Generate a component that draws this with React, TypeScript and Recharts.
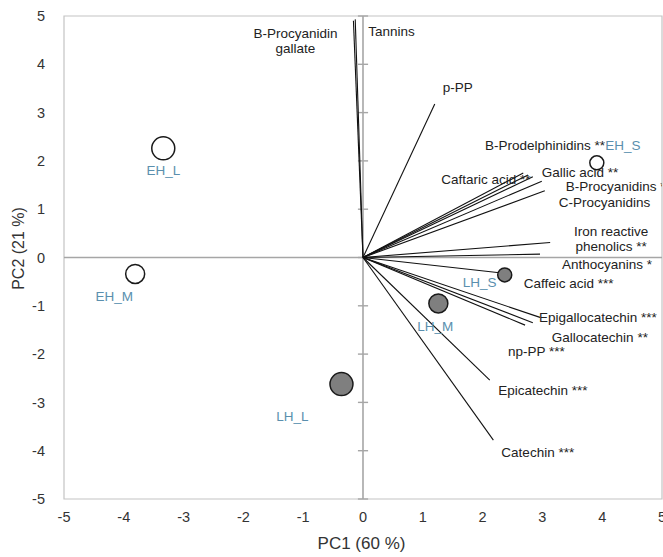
import React from 'react';
import {
  ScatterChart,
  Scatter,
  XAxis,
  YAxis,
  ReferenceLine,
  ReferenceArea,
  Label,
} from 'recharts';

// Axis ticks shared by PC1 and PC2
const axisTicks = [-5, -4, -3, -2, -1, 0, 1, 2, 3, 4, 5];

// Variable loadings (arrow tips)
const variableNames = [
  'B-Procyanidin gallate',
  'Tannins',
  'p-PP',
  'Caftaric acid',
  'B-Prodelphinidins',
  'Gallic acid',
  'B-Procyanidins',
  'C-Procyanidins',
  'Iron reactive phenolics',
  'Anthocyanins',
  'Caffeic acid',
  'Epigallocatechin',
  'Gallocatechin',
  'np-PP',
  'Epicatechin',
  'Catechin',
];
const variablePC1 = [-0.16, -0.13, 1.2, 2.68, 2.76, 2.84, 2.99, 3.04, 3.13, 2.96, 2.32, 2.96, 2.84, 2.71, 2.12, 2.18];
const variablePC2 = [4.9, 4.93, 3.18, 1.75, 1.71, 1.67, 1.58, 1.38, 0.31, 0.07, -0.32, -1.24, -1.35, -1.4, -2.54, -3.78];
const variableText = [
  ['B-Procyanidin', 'gallate'],
  ['Tannins'],
  ['p-PP'],
  ['Caftaric acid **'],
  ['B-Prodelphinidins **'],
  ['Gallic acid **'],
  ['B-Procyanidins *'],
  ['C-Procyanidins'],
  ['Iron reactive', 'phenolics **'],
  ['Anthocyanins *'],
  ['Caffeic acid ***'],
  ['Epigallocatechin ***'],
  ['Gallocatechin **'],
  ['np-PP ***'],
  ['Epicatechin ***'],
  ['Catechin ***'],
];

// Sample scores
const sampleNames = ['EH_L', 'EH_M', 'EH_S', 'LH_L', 'LH_M', 'LH_S'];
const samplePC1 = [-3.34, -3.81, 3.91, -0.36, 1.26, 2.37];
const samplePC2 = [2.26, -0.34, 1.96, -2.62, -0.95, -0.36];

// Label placement relative to each tip / point (px): [dx, dy, anchor]
const variableLabelOffsets: [number, number, string][] = [
  [-58, 12, 'middle'],
  [13, 12, 'start'],
  [8, -17, 'start'],
  [-82, 6, 'start'],
  [-43, -30, 'start'],
  [9, -5, 'start'],
  [24, 4.5, 'start'],
  [14, 11, 'start'],
  [61, -11.5, 'middle'],
  [22, 10, 'start'],
  [22, 10, 'start'],
  [-1, 0, 'start'],
  [19, 14, 'start'],
  [-17, 25.6, 'start'],
  [8.5, 10, 'start'],
  [8, 11.6, 'start'],
];
const sampleLabelOffsets: [number, number][] = [
  [0, 22],
  [-21, 23],
  [26, -17],
  [-49, 32],
  [-3, 23],
  [-25, 8],
];

const FONT = "'Liberation Sans', Arial, sans-serif";
const LABEL_SIZE = 13.5;
const LINE_GAP = 15;
const SAMPLE_LABEL_COLOR = '#5a8fae';
const AXIS_GRAY = '#a6a6a6';

const variableData = variableNames.map((name, i) => ({
  name,
  pc1: variablePC1[i],
  pc2: variablePC2[i],
  lines: variableText[i],
  offset: variableLabelOffsets[i],
}));

const sampleData = sampleNames.map((name, i) => ({
  name,
  pc1: samplePC1[i],
  pc2: samplePC2[i],
  offset: sampleLabelOffsets[i],
}));

const sizeRadius: Record<string, number> = { L: 11.5, M: 9.5, S: 7 };

const VariableLabel = (props: any) => {
  const { cx, cy, payload } = props;
  if (cx == null || cy == null) return <g />;
  const [dx, dy, anchor] = payload.offset;
  return (
    <text
      x={cx + dx}
      y={cy + dy}
      textAnchor={anchor}
      dominantBaseline="central"
      fontFamily={FONT}
      fontSize={LABEL_SIZE}
      fill="#222"
    >
      {payload.lines.map((line: string, k: number) => (
        <tspan key={k} x={cx + dx} dy={k === 0 ? 0 : LINE_GAP}>
          {line}
        </tspan>
      ))}
    </text>
  );
};

const SampleMarker = (props: any) => {
  const { cx, cy, payload } = props;
  if (cx == null || cy == null) return <g />;
  const [group, size] = payload.name.split('_');
  const r = sizeRadius[size];
  const [dx, dy] = payload.offset;
  return (
    <g>
      <circle
        cx={cx}
        cy={cy}
        r={r}
        fill={group === 'EH' ? '#ffffff' : '#7f7f7f'}
        stroke="#1a1a1a"
        strokeWidth={1.5}
      />
      <text
        x={cx + dx}
        y={cy + dy}
        textAnchor="middle"
        dominantBaseline="central"
        fontFamily={FONT}
        fontSize={LABEL_SIZE}
        fill={SAMPLE_LABEL_COLOR}
      >
        {payload.name}
      </text>
    </g>
  );
};

export default function App() {
  return (
    <div style={{ position: 'absolute', left: 0, top: 0, background: '#fff' }}>
      <ScatterChart
        width={663}
        height={557}
        margin={{ top: 16, right: 1, bottom: 0, left: 0 }}
      >
        <XAxis
          type="number"
          dataKey="pc1"
          domain={[-5, 5]}
          ticks={axisTicks}
          interval={0}
          allowDataOverflow
          height={58}
          axisLine={false}
          tickLine={false}
          tickSize={0}
          tickMargin={13}
          tick={{ fill: '#333', fontSize: 14.5, fontFamily: FONT }}
        >
          <Label
            content={({ viewBox }: any) => (
              <text
                x={viewBox.x + viewBox.width / 2 - 1.5}
                y={viewBox.y + 50}
                textAnchor="middle"
                fontFamily={FONT}
                fontSize={17}
                fill="#333"
              >
                PC1 (60 %)
              </text>
            )}
          />
        </XAxis>
        <YAxis
          type="number"
          dataKey="pc2"
          domain={[-5, 5]}
          ticks={axisTicks}
          interval={0}
          allowDataOverflow
          width={64}
          axisLine={false}
          tickLine={false}
          tickSize={0}
          tickMargin={19}
          tick={{ fill: '#333', fontSize: 14.5, fontFamily: FONT }}
        >
          <Label
            content={({ viewBox }: any) => {
              const cx = viewBox.x + 18;
              const cy = viewBox.y + viewBox.height / 2 - 9;
              return (
                <text
                  x={cx}
                  y={cy}
                  transform={`rotate(-90 ${cx} ${cy})`}
                  textAnchor="middle"
                  dominantBaseline="central"
                  fontFamily={FONT}
                  fontSize={16}
                  fill="#333"
                >
                  PC2 (21 %)
                </text>
              );
            }}
          />
        </YAxis>

        {/* plot frame */}
        <ReferenceArea
          x1={-5}
          x2={5}
          y1={-5}
          y2={5}
          fill="none"
          stroke="#c4c4c4"
          strokeWidth={1.2}
          ifOverflow="visible"
        />

        {/* axes through the origin */}
        <ReferenceLine y={0} stroke={AXIS_GRAY} strokeWidth={1.6} />
        <ReferenceLine x={0} stroke={AXIS_GRAY} strokeWidth={1.6} />
        {axisTicks.map((t) => (
          <ReferenceLine
            key={`tick-${t}`}
            segment={[
              { x: -0.085, y: t },
              { x: 0.085, y: t },
            ]}
            stroke={AXIS_GRAY}
            strokeWidth={1.4}
            ifOverflow="visible"
          />
        ))}

        {/* loading vectors */}
        {variableData.map((v) => (
          <ReferenceLine
            key={`vec-${v.name}`}
            segment={[
              { x: 0, y: 0 },
              { x: v.pc1, y: v.pc2 },
            ]}
            stroke="#111"
            strokeWidth={1.1}
            ifOverflow="visible"
          />
        ))}

        <Scatter
          data={variableData}
          dataKey="pc2"
          shape={VariableLabel}
          isAnimationActive={false}
        />
        <Scatter
          data={sampleData}
          dataKey="pc2"
          shape={SampleMarker}
          isAnimationActive={false}
        />
      </ScatterChart>
    </div>
  );
}
